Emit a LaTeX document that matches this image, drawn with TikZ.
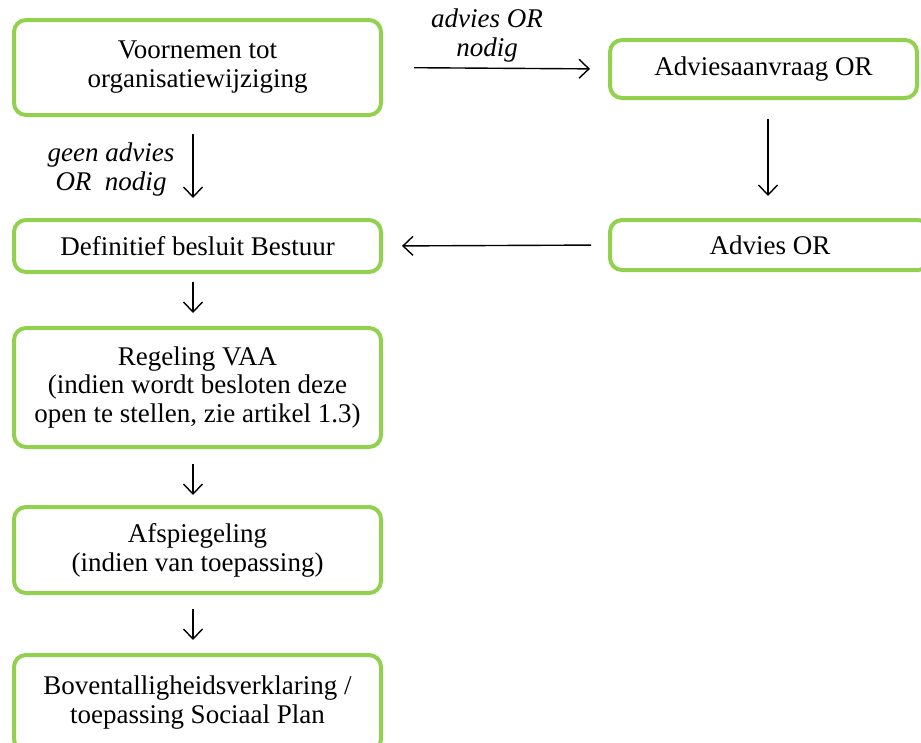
\documentclass[tikz,border=0pt]{standalone}
\usepackage{fontspec}
\setmainfont{Liberation Serif}
\usetikzlibrary{arrows.meta}
\definecolor{boxgreen}{HTML}{92D050}
\tikzset{
  stap/.style={draw=boxgreen, line width=4pt, rounded corners=12pt, align=center,
    inner sep=0pt, font=\fontsize{27}{29}\selectfont},
  pijl/.style={line width=1.4pt, -{Straight Barb[length=10pt,width=19pt]}},
  keuze/.style={align=center, font=\fontsize{27}{29}\selectfont\itshape}
}

\begin{document}
\begin{tikzpicture}[x=1pt,y=-1pt]
    \useasboundingbox (0,0) rectangle (921,742);

    % Left column
    \node[stap, minimum width=367pt, minimum height=95pt] (voornemen) at (197.5,67.5)
        {Voornemen tot\\organisatiewijziging};
    \node[stap, minimum width=367pt, minimum height=52pt] (besluit) at (197.5,246)
        {Definitief besluit Bestuur};
    \node[stap, minimum width=367pt, minimum height=119pt] (vaa) at (197.5,387.5)
        {Regeling VAA\\(indien wordt besloten deze\\open te stellen, zie artikel 1.3)};
    \node[stap, minimum width=367pt, minimum height=86pt] (afspiegeling) at (197.5,550)
        {Afspiegeling\\(indien van toepassing)};
    \node[stap, minimum width=367pt, minimum height=96pt] (boventallig) at (197.5,703)
        {Boventalligheidsverklaring /\\toepassing Sociaal Plan};

    % Right column
    \node[stap, minimum width=307pt, minimum height=58pt] (aanvraag) at (763.5,69)
        {Adviesaanvraag OR};
    \node[stap, minimum width=320pt, minimum height=50pt] (advies) at (770,245)
        {Advies OR};

    % Labels
    \node[keuze] (welnodig) at (487,36) {advies OR\\nodig};
    \node[keuze] (nietnodig) at (111,170) {geen advies\\OR~~nodig};

    % Arrows
    \draw[pijl, shorten <=31pt, shorten >=18pt] (voornemen.east) -- (aanvraag.west);
    \draw[pijl, shorten <=19pt, shorten >=22pt] ([xshift=4.5pt]aanvraag.south) -- ([xshift=-2pt]advies.north);
    \draw[pijl, shorten <=17pt, shorten >=19pt] (advies.west) -- (besluit.east);
    \draw[pijl, shorten <=17pt, shorten >=20pt] ([xshift=-4.5pt]voornemen.south) -- ([xshift=-4.5pt]besluit.north);
    \draw[pijl, shorten <=8pt, shorten >=13pt] ([xshift=-4.5pt]besluit.south) -- ([xshift=-4.5pt]vaa.north);
    \draw[pijl, shorten <=15pt, shorten >=10pt] ([xshift=-4.5pt]vaa.south) -- ([xshift=-4.5pt]afspiegeling.north);
    \draw[pijl, shorten <=14pt, shorten >=13pt] ([xshift=-4.5pt]afspiegeling.south) -- ([xshift=-4.5pt]boventallig.north);
\end{tikzpicture}
\end{document}
